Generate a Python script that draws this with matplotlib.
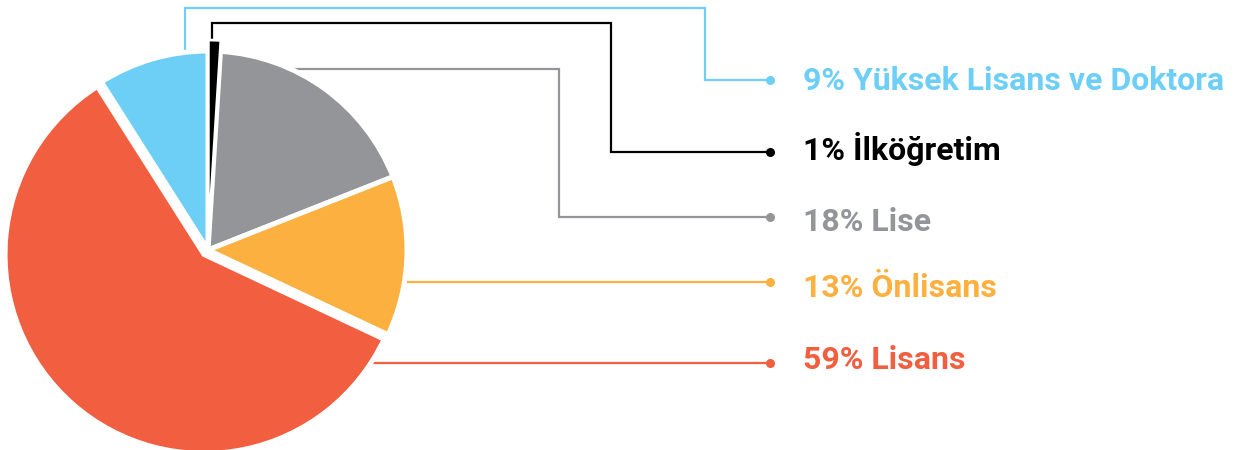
import matplotlib
matplotlib.use("Agg")
import matplotlib.pyplot as plt

# ---- data ----
categories = ["İlköğretim", "Lise", "Önlisans", "Lisans", "Yüksek Lisans ve Doktora"]
percentages = [1, 18, 13, 59, 9]
colors = ["#000000", "#939598", "#FBB040", "#F15E40", "#6DCFF6"]

# ---- layout (pixel coordinates, image y downward) ----
W, H = 1243, 450
pie_cx, pie_cy, pie_r = 208, 250, 199
explode = [0.055, 0, 0, 0.03, 0]
leaders = {
    "Yüksek Lisans ve Doktora": [(185, 60), (185, 8), (705, 8), (705, 80), (770, 80)],
    "İlköğretim": [(212, 50), (212, 23), (611, 23), (611, 152), (770, 152)],
    "Lise": [(280, 69), (559, 69), (559, 217), (770, 217)],
    "Önlisans": [(390, 282), (770, 282)],
    "Lisans": [(340, 363), (770, 363)],
}
baselines = {
    "Yüksek Lisans ve Doktora": 90,
    "İlköğretim": 160,
    "Lise": 231,
    "Önlisans": 297,
    "Lisans": 369,
}
text_x = 803
fam = ["Roboto", "DejaVu Sans"]

fig = plt.figure(figsize=(W / 100, H / 100), dpi=100)
fig.patch.set_facecolor("white")

# overlay axes in pixel coords
ax = fig.add_axes([0, 0, 1, 1], zorder=0)
ax.set_xlim(0, W)
ax.set_ylim(H, 0)
ax.axis("off")

for name, pct, col in zip(categories, percentages, colors):
    pts = leaders[name]
    xs = [p[0] for p in pts]
    ys = [p[1] for p in pts]
    ax.plot(xs, ys, color=col, lw=1.6, solid_joinstyle="miter", solid_capstyle="butt")
    ax.plot([xs[-1]], [ys[-1]], "o", color=col, ms=6.5, mec="none")
    ax.text(text_x, baselines[name], f"{pct}% {name}", color=col, fontsize=23,
            fontweight="bold", family=fam, ha="left", va="baseline")

# pie axes
half = 220
pax = fig.add_axes([(pie_cx - half) / W, (H - pie_cy - half) / H, 2 * half / W, 2 * half / H], zorder=1)
pax.patch.set_visible(False)
wedges, _ = pax.pie(percentages, colors=colors, startangle=90, counterclock=False,
                    explode=explode, radius=1,
                    wedgeprops=dict(edgecolor="white", linewidth=3.6, joinstyle="miter"))
# keep the thin black wedge visible on top of its neighbours' white edges
wedges[0].set_zorder(3)
wedges[0].set_linewidth(2.0)
lim = half / pie_r
pax.set_xlim(-lim, lim)
pax.set_ylim(-lim, lim)
pax.set_aspect("equal")
pax.axis("off")

fig.savefig("out.png", dpi=100, facecolor="white")
